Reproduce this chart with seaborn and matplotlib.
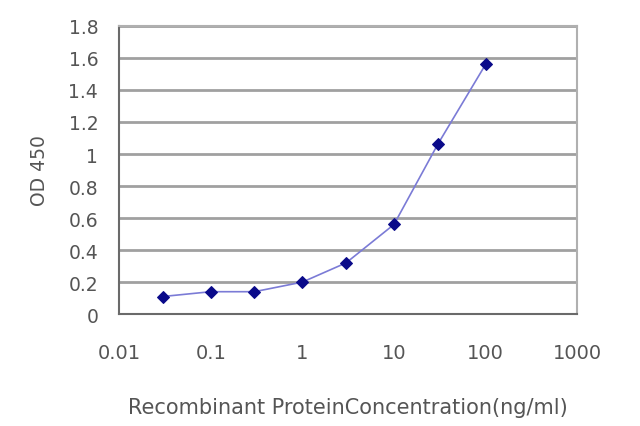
import matplotlib
matplotlib.use("Agg")
import matplotlib.pyplot as plt
import seaborn as sns
import pandas as pd
from matplotlib.ticker import FixedLocator, FixedFormatter

# concentration (ng/ml) and OD450 readings
conc = [0.03, 0.1, 0.3, 1, 3, 10, 30, 100]
od450 = [0.11, 0.14, 0.14, 0.20, 0.32, 0.56, 1.06, 1.56]

x_ticks = [0.01, 0.1, 1, 10, 100, 1000]
x_labels = ["0.01", "0.1", "1", "10", "100", "1000"]
y_ticks = [0, 0.2, 0.4, 0.6, 0.8, 1.0, 1.2, 1.4, 1.6, 1.8]
y_labels = ["0", "0.2", "0.4", "0.6", "0.8", "1", "1.2", "1.4", "1.6", "1.8"]

df = pd.DataFrame({"conc": conc, "od": od450})

sns.set_style("white")
plt.rcParams["font.family"] = ["DejaVu Sans"]
text_col = "#555555"

fig = plt.figure(figsize=(6.4, 4.27), dpi=100)
ax = fig.add_axes([0.186, 0.262, 0.716, 0.675])

sns.lineplot(data=df, x="conc", y="od", ax=ax, color="#7b7bd6", linewidth=1.2,
             marker="D", markersize=6.5, markerfacecolor="#0a0a8a",
             markeredgecolor="#0a0a8a", zorder=3)

ax.set_xscale("log")
ax.set_xlim(0.01, 1000)
ax.set_ylim(0, 1.8)
ax.xaxis.set_major_locator(FixedLocator(x_ticks))
ax.xaxis.set_major_formatter(FixedFormatter(x_labels))
ax.xaxis.set_minor_locator(FixedLocator([]))
ax.set_yticks(y_ticks)
ax.set_yticklabels(y_labels)

for y in y_ticks[1:]:
    ax.axhline(y, color="#a0a0a0", linewidth=2.0, zorder=1)

for side in ["top", "right"]:
    ax.spines[side].set_color("#b0b0b0")
    ax.spines[side].set_linewidth(1.5)
for side in ["left", "bottom"]:
    ax.spines[side].set_color("#6a6a6a")
    ax.spines[side].set_linewidth(1.5)

ax.tick_params(axis="x", direction="in", length=4, width=1.2, color="#6a6a6a",
               labelsize=14, labelcolor=text_col, pad=21)
ax.tick_params(axis="y", direction="out", length=0, labelsize=13.5,
               labelcolor=text_col, pad=15)

ax.set_xlabel("Recombinant ProteinConcentration(ng/ml)", fontsize=15,
              color=text_col, labelpad=25)
ax.set_ylabel("OD 450", fontsize=13.5, color=text_col, labelpad=14)

fig.savefig("out.png", dpi=100)
